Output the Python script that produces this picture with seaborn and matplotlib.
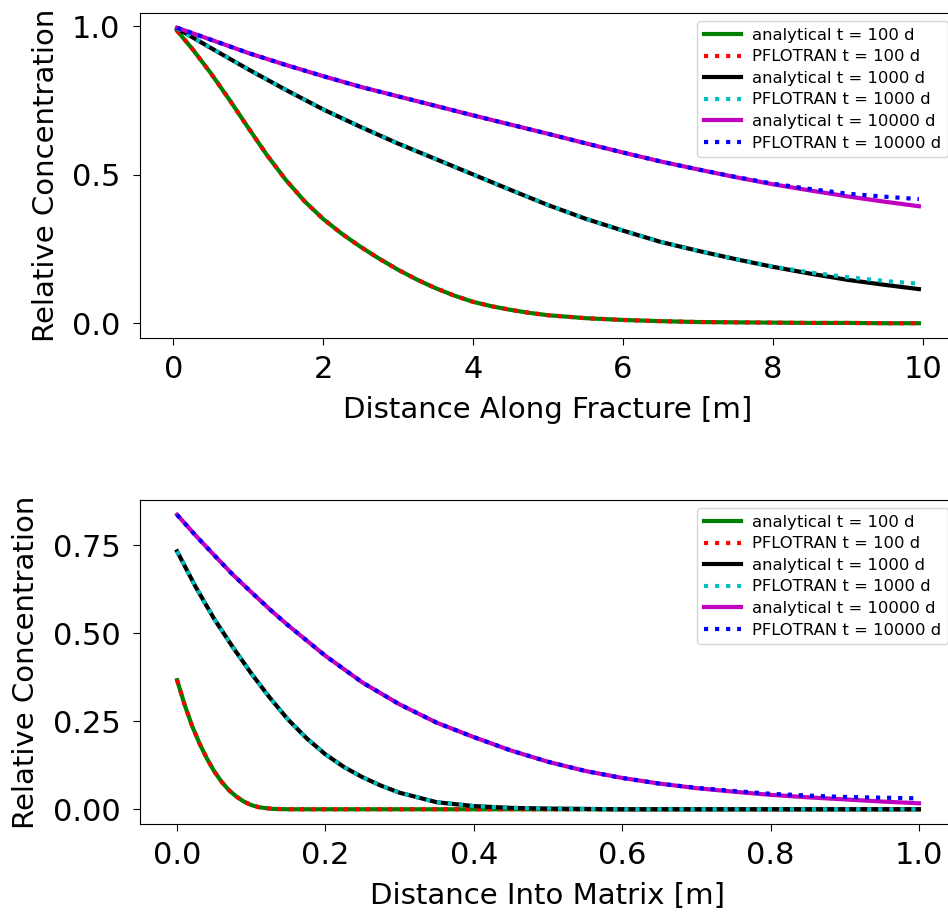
import numpy as np
import pandas as pd
import matplotlib
matplotlib.use("Agg")
import matplotlib.pyplot as plt
import seaborn as sns

# ---------------- data: distance along fracture [m] ----------------
frac_x_100 = [0.05, 0.25, 0.5, 0.75, 1.0, 1.25, 1.5, 1.75, 2.0, 2.25, 2.5, 2.75, 3.0, 3.25,
              3.5, 3.75, 4.0, 4.25, 4.5, 4.75, 5.0, 5.5, 6.0, 6.5, 7.0, 7.5, 8.0, 8.5, 9.0,
              9.5, 9.95]
frac_ana_100 = [0.985, 0.925, 0.842, 0.752, 0.658, 0.566, 0.483, 0.411, 0.351, 0.301, 0.257, 0.217,
                0.18, 0.147, 0.118, 0.093, 0.072, 0.057, 0.045, 0.035, 0.027, 0.017, 0.011, 0.007,
                0.004, 0.003, 0.002, 0.001, 0.001, 0.0, 0.0]
frac_pf_100 = [0.985, 0.925, 0.842, 0.752, 0.658, 0.566, 0.483, 0.411, 0.351, 0.301, 0.257, 0.217,
               0.18, 0.147, 0.118, 0.093, 0.072, 0.057, 0.045, 0.035, 0.027, 0.017, 0.011, 0.007,
               0.004, 0.003, 0.002, 0.001, 0.001, 0.0, 0.0]

frac_x = [0.05, 0.5, 1.0, 1.5, 2.0, 2.5, 3.0, 3.5, 4.0, 4.5, 5.0,
          5.5, 6.0, 6.5, 7.0, 7.5, 8.0, 8.5, 9.0, 9.5, 9.95]
frac_ana_1000 = [0.993, 0.927, 0.855, 0.786, 0.72, 0.661, 0.605, 0.553, 0.501, 0.449, 0.398,
                 0.352, 0.312, 0.274, 0.244, 0.216, 0.19, 0.167, 0.146, 0.129, 0.115]
frac_pf_1000 = [0.993, 0.927, 0.855, 0.786, 0.72, 0.661, 0.605, 0.553, 0.501, 0.449, 0.398,
                0.352, 0.312, 0.274, 0.244, 0.216, 0.191, 0.171, 0.155, 0.142, 0.133]
frac_ana_10000 = [0.995, 0.955, 0.91, 0.87, 0.832, 0.796, 0.764, 0.732, 0.70, 0.669, 0.638,
                  0.606, 0.575, 0.545, 0.518, 0.492, 0.468, 0.447, 0.427, 0.409, 0.394]
frac_pf_10000 = [0.995, 0.955, 0.91, 0.87, 0.832, 0.796, 0.764, 0.732, 0.70, 0.669, 0.638,
                 0.606, 0.575, 0.545, 0.518, 0.493, 0.47, 0.452, 0.436, 0.426, 0.418]

# ---------------- data: distance into matrix [m] ----------------
mat_x_100 = [0.0, 0.01, 0.02, 0.03, 0.04, 0.05, 0.06, 0.07, 0.08, 0.09, 0.1, 0.11, 0.12, 0.13,
             0.15, 0.2, 0.3, 0.4, 0.5, 0.6, 0.7, 0.8, 0.9, 1.0]
mat_ana_100 = [0.367, 0.298, 0.238, 0.188, 0.145, 0.108, 0.078, 0.054, 0.036, 0.022, 0.012, 0.006,
               0.003, 0.001, 0.0, 0.0, 0.0, 0.0, 0.0, 0.0, 0.0, 0.0, 0.0, 0.0]
mat_pf_100 = [0.367, 0.298, 0.238, 0.188, 0.145, 0.108, 0.078, 0.054, 0.036, 0.022, 0.012, 0.006,
              0.003, 0.001, 0.0, 0.0, 0.0, 0.0, 0.0, 0.0, 0.0, 0.0, 0.0, 0.0]

mat_x_1000 = [0.0, 0.025, 0.05, 0.075, 0.1, 0.125, 0.15, 0.175, 0.2, 0.225, 0.25, 0.275, 0.3,
              0.35, 0.4, 0.45, 0.5, 0.55, 0.6, 0.7, 0.8, 0.9, 1.0]
mat_ana_1000 = [0.733, 0.632, 0.541, 0.461, 0.386, 0.317, 0.254, 0.201, 0.156, 0.12, 0.091, 0.067,
                0.047, 0.02, 0.009, 0.004, 0.002, 0.001, 0.0, 0.0, 0.0, 0.0, 0.0]
mat_pf_1000 = [0.733, 0.632, 0.541, 0.461, 0.386, 0.317, 0.254, 0.201, 0.156, 0.12, 0.091, 0.067,
               0.047, 0.02, 0.009, 0.004, 0.002, 0.001, 0.0, 0.0, 0.0, 0.0, 0.0]

mat_x_10000 = [0.0, 0.025, 0.05, 0.075, 0.1, 0.125, 0.15, 0.2, 0.25, 0.3, 0.35, 0.4, 0.45, 0.5,
               0.55, 0.6, 0.65, 0.7, 0.75, 0.8, 0.85, 0.9, 0.95, 1.0]
mat_ana_10000 = [0.837, 0.778, 0.722, 0.667, 0.617, 0.568, 0.522, 0.436, 0.36, 0.298, 0.246, 0.205,
                 0.167, 0.135, 0.109, 0.089, 0.073, 0.06, 0.05, 0.041, 0.034, 0.028, 0.022, 0.017]
mat_pf_10000 = [0.837, 0.778, 0.722, 0.667, 0.617, 0.568, 0.522, 0.436, 0.36, 0.298, 0.246, 0.205,
                0.167, 0.135, 0.109, 0.089, 0.073, 0.061, 0.052, 0.044, 0.039, 0.035, 0.033, 0.031]

labels = ["analytical t = 100 d", "PFLOTRAN t = 100 d",
          "analytical t = 1000 d", "PFLOTRAN t = 1000 d",
          "analytical t = 10000 d", "PFLOTRAN t = 10000 d"]
colors = ["g", "r", "k", "c", "m", "b"]
styles = ["-", ":", "-", ":", "-", ":"]

frac_series = [(frac_x_100, frac_ana_100), (frac_x_100, frac_pf_100),
               (frac_x, frac_ana_1000), (frac_x, frac_pf_1000),
               (frac_x, frac_ana_10000), (frac_x, frac_pf_10000)]
mat_series = [(mat_x_100, mat_ana_100), (mat_x_100, mat_pf_100),
              (mat_x_1000, mat_ana_1000), (mat_x_1000, mat_pf_1000),
              (mat_x_10000, mat_ana_10000), (mat_x_10000, mat_pf_10000)]

plt.rcParams["font.family"] = ["DejaVu Sans"]

fig = plt.figure(figsize=(9.48, 9.14), dpi=100)
ax1 = fig.add_axes([140 / 948, 1 - 338 / 914, (956 - 140) / 948, (338 - 13) / 914])
ax2 = fig.add_axes([140 / 948, 1 - 824 / 914, (956 - 140) / 948, (824 - 500) / 914])


def draw(ax, series, xlabel):
    for (xs, vals), lab, col, ls in zip(series, labels, colors, styles):
        df = pd.DataFrame({"x": xs, "y": vals})
        sns.lineplot(data=df, x="x", y="y", ax=ax, color=col, linestyle=ls,
                     linewidth=3, label=lab, estimator=None, sort=False)
    ax.set_xlabel(xlabel, fontsize=21, labelpad=9)
    ax.set_ylabel("Relative Concentration", fontsize=21, labelpad=9)
    ax.tick_params(labelsize=22, length=5)
    ax.tick_params(axis="x", pad=7)
    ax.tick_params(axis="y", pad=9)
    ax.legend(loc="upper right", fontsize=11.8, handlelength=2.3,
              labelspacing=0.4, handletextpad=0.65)


draw(ax1, frac_series, "Distance Along Fracture [m]")
ax1.set_xticks([0, 2, 4, 6, 8, 10])
ax1.set_yticks([0.0, 0.5, 1.0])
ax1.set_yticklabels(["0.0", "0.5", "1.0"])

draw(ax2, mat_series, "Distance Into Matrix [m]")
ax2.set_xticks([0.0, 0.2, 0.4, 0.6, 0.8, 1.0])
ax2.set_xticklabels(["0.0", "0.2", "0.4", "0.6", "0.8", "1.0"])
ax2.set_yticks([0.0, 0.25, 0.5, 0.75])
ax2.set_yticklabels(["0.00", "0.25", "0.50", "0.75"])

fig.savefig("out.png", dpi=100)
